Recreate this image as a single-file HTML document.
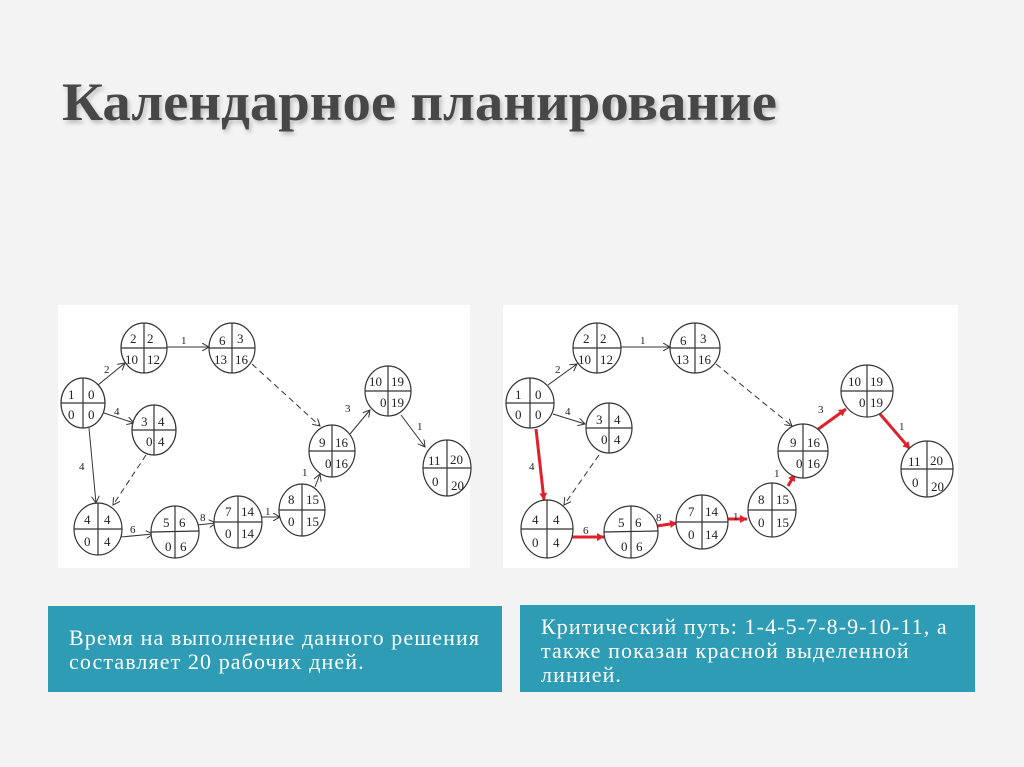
<!DOCTYPE html>
<html><head><meta charset="utf-8"><style>
html,body{margin:0;padding:0}
body{width:1024px;height:767px;background:#f3f3f3;position:relative;overflow:hidden;font-family:"Liberation Serif",serif}
.box{position:absolute;background:#2e9cb4;color:#fff;font-size:22px;line-height:24px;letter-spacing:1.1px}
.panel{position:absolute;background:#fff}
svg text{font-family:"Liberation Serif",serif}
</style></head><body>
<svg width="1024" height="767" style="position:absolute;left:0;top:0">
<defs><filter id="b"><feGaussianBlur stdDeviation="2"/></filter></defs>
<text x="64" y="123" font-size="54" font-weight="bold" fill="#bbb" filter="url(#b)" textLength="715" lengthAdjust="spacingAndGlyphs">Календарное планирование</text>
<text x="62" y="120" font-size="54" font-weight="bold" fill="#474747" textLength="715" lengthAdjust="spacingAndGlyphs">Календарное планирование</text>
</svg>
<div class="panel" style="left:58px;top:305px;width:412px;height:263px"></div>
<div class="panel" style="left:503px;top:305px;width:455px;height:263px"></div>
<svg width="1024" height="767" style="position:absolute;left:0;top:0">
<defs>
<marker id="a" markerWidth="8" markerHeight="8" refX="7" refY="4" orient="auto" markerUnits="userSpaceOnUse"><path d="M0,0 L7,4 L0,8" fill="none" stroke="#333" stroke-width="1"/></marker>
<marker id="r" markerWidth="8" markerHeight="8" refX="7" refY="4" orient="auto" markerUnits="userSpaceOnUse"><path d="M0,0 L7,4 L0,8 z" fill="#e0202a"/></marker>
</defs>
<g stroke="#333" stroke-width="1" fill="none">
<line x1="98" y1="385" x2="125" y2="363" marker-end="url(#a)"/>
<line x1="166" y1="347" x2="209" y2="347" marker-end="url(#a)"/>
<line x1="104" y1="413" x2="134" y2="423" marker-end="url(#a)"/>
<line x1="89" y1="428" x2="96" y2="503" marker-end="url(#a)"/>
<line x1="146" y1="455" x2="113" y2="505" stroke-dasharray="6,4" marker-end="url(#a)"/>
<line x1="252" y1="364" x2="320" y2="426" stroke-dasharray="6,4" marker-end="url(#a)"/>
<line x1="121" y1="537" x2="153" y2="534" marker-end="url(#a)"/>
<line x1="197" y1="525" x2="216" y2="523" marker-end="url(#a)"/>
<line x1="261" y1="517" x2="280" y2="517" marker-end="url(#a)"/>
<line x1="315" y1="487" x2="320" y2="474" marker-end="url(#a)"/>
<line x1="350" y1="434" x2="370" y2="410" marker-end="url(#a)"/>
<line x1="401" y1="415" x2="425" y2="447" marker-end="url(#a)"/>
<line x1="548" y1="385" x2="577" y2="364" marker-end="url(#a)"/>
<line x1="621" y1="347" x2="670" y2="347" marker-end="url(#a)"/>
<line x1="553" y1="414" x2="585" y2="424" marker-end="url(#a)"/>
<line x1="599" y1="455" x2="564" y2="505" stroke-dasharray="6,4" marker-end="url(#a)"/>
<line x1="716" y1="364" x2="792" y2="426" stroke-dasharray="6,4" marker-end="url(#a)"/>
</g>
<g stroke="#e0202a" stroke-width="3" fill="none">
<line x1="536" y1="429" x2="544" y2="500" marker-end="url(#r)"/>
<line x1="572" y1="537" x2="604" y2="537" marker-end="url(#r)"/>
<line x1="657" y1="526" x2="677" y2="523" marker-end="url(#r)"/>
<line x1="727" y1="519" x2="747" y2="519" marker-end="url(#r)"/>
<line x1="788" y1="486" x2="795" y2="474" marker-end="url(#r)"/>
<line x1="817" y1="430" x2="846" y2="409" marker-end="url(#r)"/>
<line x1="880" y1="414" x2="910" y2="449" marker-end="url(#r)"/>
</g>
<g font-size="11" fill="#222">
<text x="104" y="373">2</text><text x="181" y="344">1</text><text x="114" y="415">4</text><text x="79" y="470">4</text>
<text x="130" y="533">6</text><text x="200" y="521">8</text><text x="265" y="515">1</text><text x="302" y="476">1</text>
<text x="345" y="412">3</text><text x="417" y="430">1</text>
<text x="555" y="373">2</text><text x="640" y="344">1</text><text x="565" y="415">4</text><text x="529" y="470">4</text>
<text x="583" y="534">6</text><text x="656" y="521">8</text><text x="733" y="520">1</text><text x="774" y="477">1</text>
<text x="818" y="413">3</text><text x="899" y="430">1</text>
</g>
<g stroke="#333" stroke-width="1.2" fill="#fff" font-size="13">
<g transform="translate(83,403)"><ellipse rx="22" ry="25"/><line x1="-22" y1="0" x2="22" y2="0"/><line x1="0" y1="-25" x2="0" y2="25"/><g stroke="none" fill="#222"><text x="-15" y="-4">1</text><text x="5" y="-4">0</text><text x="-15" y="16">0</text><text x="5" y="16">0</text></g></g>
<g transform="translate(144,348)"><ellipse rx="23" ry="25"/><line x1="-23" y1="0" x2="23" y2="0"/><line x1="0" y1="-25" x2="0" y2="25"/><g stroke="none" fill="#222"><text x="-14" y="-5">2</text><text x="3" y="-5">2</text><text x="-19" y="16">10</text><text x="3" y="16">12</text></g></g>
<g transform="translate(232,348)"><ellipse rx="23" ry="25"/><line x1="-23" y1="0" x2="23" y2="0"/><line x1="0" y1="-25" x2="0" y2="25"/><g stroke="none" fill="#222"><text x="-13" y="-3">6</text><text x="5" y="-5">3</text><text x="-18" y="16">13</text><text x="3" y="16">16</text></g></g>
<g transform="translate(154,430)"><ellipse rx="22" ry="25"/><line x1="-22" y1="0" x2="22" y2="0"/><line x1="0" y1="-25" x2="0" y2="25"/><g stroke="none" fill="#222"><text x="-13" y="-4">3</text><text x="4" y="-4">4</text><text x="-8" y="16">0</text><text x="4" y="16">4</text></g></g>
<g transform="translate(98,529)"><ellipse rx="24" ry="26"/><line x1="-24" y1="0" x2="24" y2="0"/><line x1="0" y1="-26" x2="0" y2="26"/><g stroke="none" fill="#222"><text x="-14" y="-5">4</text><text x="6" y="-5">4</text><text x="-14" y="17">0</text><text x="6" y="17">4</text></g></g>
<g transform="translate(175,532)"><ellipse rx="24" ry="26"/><line x1="-24" y1="0" x2="24" y2="-1"/><line x1="0" y1="-26" x2="0" y2="26"/><g stroke="none" fill="#222"><text x="-12" y="-5">5</text><text x="4" y="-5">6</text><text x="-10" y="19">0</text><text x="5" y="19">6</text></g></g>
<g transform="translate(238,522)"><ellipse rx="24" ry="26"/><line x1="-24" y1="0" x2="24" y2="0"/><line x1="0" y1="-26" x2="0" y2="26"/><g stroke="none" fill="#222"><text x="-13" y="-6">7</text><text x="3" y="-6">14</text><text x="-13" y="16">0</text><text x="3" y="16">14</text></g></g>
<g transform="translate(302,510)"><ellipse rx="23" ry="26"/><line x1="-23" y1="0" x2="23" y2="0"/><line x1="0" y1="-26" x2="0" y2="26"/><g stroke="none" fill="#222"><text x="-14" y="-6">8</text><text x="4" y="-6">15</text><text x="-14" y="16">0</text><text x="4" y="16">15</text></g></g>
<g transform="translate(332,451)"><ellipse rx="23" ry="26"/><line x1="-23" y1="0" x2="23" y2="0"/><line x1="0" y1="-26" x2="0" y2="26"/><g stroke="none" fill="#222"><text x="-13" y="-4">9</text><text x="3" y="-4">16</text><text x="-7" y="17">0</text><text x="3" y="17">16</text></g></g>
<g transform="translate(388,391)"><ellipse rx="23" ry="25"/><line x1="-23" y1="0" x2="23" y2="0"/><line x1="0" y1="-25" x2="0" y2="25"/><g stroke="none" fill="#222"><text x="-19" y="-5">10</text><text x="3" y="-5">19</text><text x="-8" y="16">0</text><text x="3" y="16">19</text></g></g>
<g transform="translate(447,468)"><ellipse rx="24" ry="28"/><line x1="-24" y1="0" x2="24" y2="0"/><line x1="0" y1="-28" x2="0" y2="28"/><g stroke="none" fill="#222"><text x="-19" y="-3">11</text><text x="3" y="-4">20</text><text x="-15" y="18">0</text><text x="4" y="22">20</text></g></g>
<g transform="translate(530,403)"><ellipse rx="24" ry="25"/><line x1="-24" y1="0" x2="24" y2="0"/><line x1="0" y1="-25" x2="0" y2="25"/><g stroke="none" fill="#222"><text x="-15" y="-4">1</text><text x="5" y="-4">0</text><text x="-15" y="16">0</text><text x="5" y="16">0</text></g></g>
<g transform="translate(597,348)"><ellipse rx="24" ry="25"/><line x1="-24" y1="0" x2="24" y2="0"/><line x1="0" y1="-25" x2="0" y2="25"/><g stroke="none" fill="#222"><text x="-14" y="-5">2</text><text x="3" y="-5">2</text><text x="-19" y="16">10</text><text x="3" y="16">12</text></g></g>
<g transform="translate(695,348)"><ellipse rx="25" ry="25"/><line x1="-25" y1="0" x2="25" y2="0"/><line x1="0" y1="-25" x2="0" y2="25"/><g stroke="none" fill="#222"><text x="-15" y="-3">6</text><text x="5" y="-5">3</text><text x="-19" y="16">13</text><text x="3" y="16">16</text></g></g>
<g transform="translate(609,428)"><ellipse rx="23" ry="25"/><line x1="-23" y1="0" x2="23" y2="0"/><line x1="0" y1="-25" x2="0" y2="25"/><g stroke="none" fill="#222"><text x="-13" y="-4">3</text><text x="5" y="-4">4</text><text x="-8" y="16">0</text><text x="5" y="16">4</text></g></g>
<g transform="translate(547,529)"><ellipse rx="26" ry="29"/><line x1="-26" y1="0" x2="26" y2="0"/><line x1="0" y1="-29" x2="0" y2="29"/><g stroke="none" fill="#222"><text x="-15" y="-5">4</text><text x="6" y="-5">4</text><text x="-15" y="18">0</text><text x="6" y="18">4</text></g></g>
<g transform="translate(631,532)"><ellipse rx="27" ry="26"/><line x1="-27" y1="0" x2="27" y2="-1"/><line x1="0" y1="-26" x2="0" y2="26"/><g stroke="none" fill="#222"><text x="-13" y="-5">5</text><text x="4" y="-5">6</text><text x="-10" y="19">0</text><text x="5" y="19">6</text></g></g>
<g transform="translate(702,522)"><ellipse rx="26" ry="27"/><line x1="-26" y1="0" x2="26" y2="0"/><line x1="0" y1="-27" x2="0" y2="27"/><g stroke="none" fill="#222"><text x="-14" y="-6">7</text><text x="3" y="-6">14</text><text x="-14" y="17">0</text><text x="3" y="17">14</text></g></g>
<g transform="translate(772,510)"><ellipse rx="24" ry="27"/><line x1="-24" y1="0" x2="24" y2="0"/><line x1="0" y1="-27" x2="0" y2="27"/><g stroke="none" fill="#222"><text x="-14" y="-6">8</text><text x="4" y="-6">15</text><text x="-14" y="17">0</text><text x="4" y="17">15</text></g></g>
<g transform="translate(803,451)"><ellipse rx="25" ry="27"/><line x1="-25" y1="0" x2="25" y2="0"/><line x1="0" y1="-27" x2="0" y2="27"/><g stroke="none" fill="#222"><text x="-13" y="-4">9</text><text x="4" y="-4">16</text><text x="-7" y="17">0</text><text x="4" y="17">16</text></g></g>
<g transform="translate(867,391)"><ellipse rx="26" ry="26"/><line x1="-26" y1="0" x2="26" y2="0"/><line x1="0" y1="-26" x2="0" y2="26"/><g stroke="none" fill="#222"><text x="-19" y="-5">10</text><text x="3" y="-5">19</text><text x="-8" y="16">0</text><text x="3" y="16">19</text></g></g>
<g transform="translate(927,469)"><ellipse rx="26" ry="28"/><line x1="-26" y1="0" x2="26" y2="0"/><line x1="0" y1="-28" x2="0" y2="28"/><g stroke="none" fill="#222"><text x="-19" y="-3">11</text><text x="3" y="-4">20</text><text x="-15" y="18">0</text><text x="4" y="22">20</text></g></g>
</g>
</svg>
<div class="box" style="left:48px;top:606px;width:454px;height:86px"><div style="position:absolute;left:21px;top:20px;width:425px">Время на выполнение данного решения составляет 20 рабочих дней.</div></div>
<div class="box" style="left:520px;top:605px;width:455px;height:87px"><div style="position:absolute;left:21px;top:10px;width:412px">Критический путь: 1-4-5-7-8-9-10-11, а также показан красной выделенной линией.</div></div>
</body></html>
